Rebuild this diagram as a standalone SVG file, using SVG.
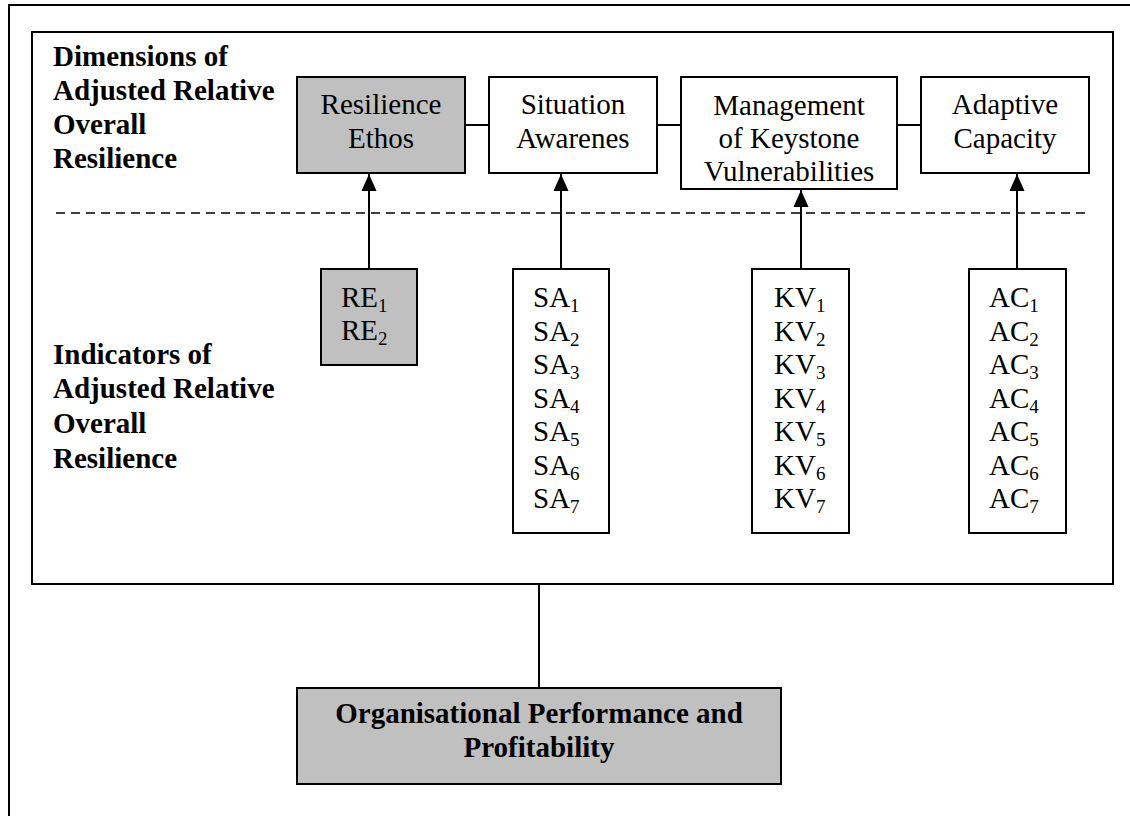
<svg xmlns="http://www.w3.org/2000/svg" width="1130" height="816" viewBox="0 0 1130 816">
  <style>
    .frame { fill: none; stroke: #000; stroke-width: 2; }
    .box { fill: #fff; stroke: #000; stroke-width: 2; }
    .shaded { fill: #c0c0c0; stroke: #000; stroke-width: 2; }
    .link { stroke: #000; stroke-width: 2; fill: none; }
    .dash { stroke: #000; stroke-width: 1.5; stroke-dasharray: 9 6; fill: none; }
    .lbl { font-family: "Liberation Serif", "Times New Roman", serif; font-size: 29px; fill: #000; }
    .bold { font-weight: bold; }
    .sub { font-size: 19px; }
  </style>
  <defs>
    <!-- filled triangular head, drawn along +x so orient="auto" points it along the line -->
    <marker id="arrow" markerUnits="userSpaceOnUse" markerWidth="17" markerHeight="16" refX="17" refY="8" orient="auto" viewBox="0 0 17 16">
      <path d="M0,0.5 L17,8 L0,15.5 Z" fill="#000"/>
    </marker>
  </defs>

  <!-- page frame (top and left edges only) -->
  <path class="frame" d="M9,816 V5 H1130"/>

  <!-- inner panel -->
  <rect class="frame" x="32" y="32" width="1081" height="552"/>

  <!-- separator between dimensions and indicators -->
  <line class="dash" x1="56" y1="213" x2="1090" y2="213"/>

  <!-- section headings -->
  <g id="heading-dimensions">
    <text class="lbl bold" x="53" y="66">Dimensions of</text>
    <text class="lbl bold" x="53" y="100">Adjusted Relative</text>
    <text class="lbl bold" x="53" y="134">Overall</text>
    <text class="lbl bold" x="53" y="168">Resilience</text>
  </g>
  <g id="heading-indicators">
    <text class="lbl bold" x="53" y="364">Indicators of</text>
    <text class="lbl bold" x="53" y="398">Adjusted Relative</text>
    <text class="lbl bold" x="53" y="433">Overall</text>
    <text class="lbl bold" x="53" y="468">Resilience</text>
  </g>

  <!-- connectors -->
  <g id="connectors">
    <line class="link" x1="465" y1="125" x2="489" y2="125"/>
    <line class="link" x1="657" y1="125" x2="681" y2="125"/>
    <line class="link" x1="897" y1="125" x2="921" y2="125"/>
    <line class="link" x1="369" y1="269" x2="369" y2="174" marker-end="url(#arrow)"/>
    <line class="link" x1="561" y1="269" x2="561" y2="174" marker-end="url(#arrow)"/>
    <line class="link" x1="801" y1="269" x2="801" y2="190" marker-end="url(#arrow)"/>
    <line class="link" x1="1017" y1="269" x2="1017" y2="174" marker-end="url(#arrow)"/>
    <line class="link" x1="539" y1="584" x2="539" y2="688"/>
  </g>

  <!-- dimension boxes -->
  <g id="dim-re">
    <rect class="shaded" x="297" y="77" width="168" height="96"/>
    <text class="lbl" x="381" y="114" text-anchor="middle">Resilience</text>
    <text class="lbl" x="381" y="148" text-anchor="middle">Ethos</text>
  </g>
  <g id="dim-sa">
    <rect class="box" x="489" y="77" width="168" height="96"/>
    <text class="lbl" x="573" y="114" text-anchor="middle">Situation</text>
    <text class="lbl" x="573" y="148" text-anchor="middle">Awarenes</text>
  </g>
  <g id="dim-kv">
    <rect class="box" x="681" y="77" width="216" height="112"/>
    <text class="lbl" x="789" y="115" text-anchor="middle">Management</text>
    <text class="lbl" x="789" y="148" text-anchor="middle">of Keystone</text>
    <text class="lbl" x="789" y="181" text-anchor="middle">Vulnerabilities</text>
  </g>
  <g id="dim-ac">
    <rect class="box" x="921" y="77" width="168" height="96"/>
    <text class="lbl" x="1005" y="114" text-anchor="middle">Adaptive</text>
    <text class="lbl" x="1005" y="148" text-anchor="middle">Capacity</text>
  </g>

  <!-- indicator boxes -->
  <g id="ind-re">
    <rect class="shaded" x="321" y="269" width="96" height="96"/>
    <text class="lbl" x="341" y="307">RE<tspan class="sub" dy="5">1</tspan></text>
    <text class="lbl" x="341" y="340">RE<tspan class="sub" dy="5">2</tspan></text>
  </g>
  <g id="ind-sa">
    <rect class="box" x="513" y="269" width="96" height="264"/>
    <text class="lbl" x="533" y="307">SA<tspan class="sub" dy="5">1</tspan></text>
    <text class="lbl" x="533" y="341">SA<tspan class="sub" dy="5">2</tspan></text>
    <text class="lbl" x="533" y="374">SA<tspan class="sub" dy="5">3</tspan></text>
    <text class="lbl" x="533" y="408">SA<tspan class="sub" dy="5">4</tspan></text>
    <text class="lbl" x="533" y="441">SA<tspan class="sub" dy="5">5</tspan></text>
    <text class="lbl" x="533" y="475">SA<tspan class="sub" dy="5">6</tspan></text>
    <text class="lbl" x="533" y="508">SA<tspan class="sub" dy="5">7</tspan></text>
  </g>
  <g id="ind-kv">
    <rect class="box" x="752" y="269" width="97" height="264"/>
    <text class="lbl" x="774" y="307">KV<tspan class="sub" dy="5">1</tspan></text>
    <text class="lbl" x="774" y="341">KV<tspan class="sub" dy="5">2</tspan></text>
    <text class="lbl" x="774" y="374">KV<tspan class="sub" dy="5">3</tspan></text>
    <text class="lbl" x="774" y="408">KV<tspan class="sub" dy="5">4</tspan></text>
    <text class="lbl" x="774" y="441">KV<tspan class="sub" dy="5">5</tspan></text>
    <text class="lbl" x="774" y="475">KV<tspan class="sub" dy="5">6</tspan></text>
    <text class="lbl" x="774" y="508">KV<tspan class="sub" dy="5">7</tspan></text>
  </g>
  <g id="ind-ac">
    <rect class="box" x="969" y="269" width="97" height="264"/>
    <text class="lbl" x="989" y="307">AC<tspan class="sub" dy="5">1</tspan></text>
    <text class="lbl" x="989" y="341">AC<tspan class="sub" dy="5">2</tspan></text>
    <text class="lbl" x="989" y="374">AC<tspan class="sub" dy="5">3</tspan></text>
    <text class="lbl" x="989" y="408">AC<tspan class="sub" dy="5">4</tspan></text>
    <text class="lbl" x="989" y="441">AC<tspan class="sub" dy="5">5</tspan></text>
    <text class="lbl" x="989" y="475">AC<tspan class="sub" dy="5">6</tspan></text>
    <text class="lbl" x="989" y="508">AC<tspan class="sub" dy="5">7</tspan></text>
  </g>

  <!-- outcome -->
  <g id="outcome">
    <rect class="shaded" x="297" y="688" width="484" height="96"/>
    <text class="lbl bold" x="539" y="723" text-anchor="middle">Organisational Performance and</text>
    <text class="lbl bold" x="539" y="757" text-anchor="middle">Profitability</text>
  </g>
</svg>
